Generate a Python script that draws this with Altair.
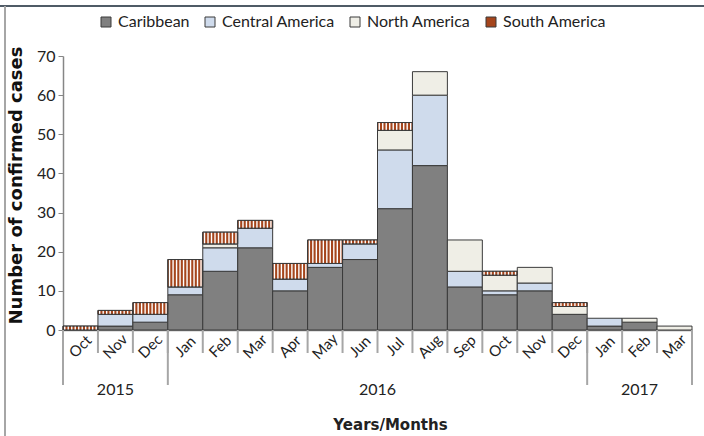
import altair as alt
import pandas as pd

# ---- data ----
years = ["2015"] * 3 + ["2016"] * 12 + ["2017"] * 3
months = ["Oct", "Nov", "Dec",
          "Jan", "Feb", "Mar", "Apr", "May", "Jun", "Jul", "Aug", "Sep", "Oct", "Nov", "Dec",
          "Jan", "Feb", "Mar"]
regions = ["Caribbean", "Central America", "North America", "South America"]
caribbean = [0, 1, 2, 9, 15, 21, 10, 16, 18, 31, 42, 11, 9, 10, 4, 1, 2, 0]
central   = [0, 3, 2, 2, 6, 5, 3, 1, 4, 15, 18, 4, 1, 2, 0, 2, 0, 0]
north     = [0, 0, 0, 0, 1, 0, 0, 0, 0, 5, 6, 8, 4, 4, 2, 0, 1, 1]
south     = [1, 1, 3, 7, 3, 2, 4, 6, 1, 2, 0, 0, 1, 0, 1, 0, 0, 0]
y_ticks = [0, 10, 20, 30, 40, 50, 60, 70]
region_colors = ["#808080", "#CFDBEC", "#EFEEE6", "#A5451C"]

keys = [f"{y}|{m}" for y, m in zip(years, months)]
series = [caribbean, central, north, south]

rows = []
for i, k in enumerate(keys):
    base = 0
    for r, (name, vals) in enumerate(zip(regions, series)):
        v = vals[i]
        rows.append({"key": k, "region": name, "ord": r, "value": v,
                     "start": base, "end": base + v})
        base += v
df = pd.DataFrame(rows)
seg = df[df["value"] > 0]

# stripes for South America segments
stripe_rows = []
for _, r in seg[seg["region"] == "South America"].iterrows():
    for s in range(10):
        stripe_rows.append({"key": r["key"], "s": s, "start": r["start"], "end": r["end"]})
stripes = pd.DataFrame(stripe_rows)

mdf = pd.DataFrame({"key": keys})

# year groups
ystart, yend, ycenter_odd, ycenter_even = [], [], [], []
for y in dict.fromkeys(years):
    idx = [i for i, yy in enumerate(years) if yy == y]
    ystart.append({"key": keys[idx[0]], "year": y})
    yend.append({"key": keys[idx[-1]], "year": y})
    c = (idx[0] + idx[-1]) / 2
    if c % 1 == 0:
        ycenter_odd.append({"key": keys[int(c)], "year": y})
    else:
        ycenter_even.append({"key": keys[int(c)], "year": y})
ys_df = pd.DataFrame(ystart)
ye_df = pd.DataFrame(yend[-1:])
yo_df = pd.DataFrame(ycenter_odd)
yev_df = pd.DataFrame(ycenter_even)

W, H = 629, 274
FONT = "Lato"
BOLD = "DejaVu Sans"
GRID_GREY = "#A6A6A6"
AX_GREY = "#868686"

yscale = alt.Scale(domain=[0, 70], nice=False)
xscale = alt.Scale(domain=keys, paddingInner=0, paddingOuter=0)

x_axis = alt.Axis(labelAngle=315, labelAlign="center", labelBaseline="middle",
                  ticks=False, labelPadding=16, labelFontSize=15, labelColor="#222222",
                  labelFont=FONT, labelOverlap=False,
                  domainColor=AX_GREY, domainWidth=1.5,
                  labelExpr="split(datum.value, '|')[1]",
                  title="Years/Months", titleFont=BOLD, titleFontSize=15,
                  titleFontWeight="bold", titleColor="#222222",
                  titleX=327, titleY=94, titleAlign="center", titleBaseline="middle")
y_axis = alt.Axis(values=y_ticks, tickCount=len(y_ticks), grid=False, ticks=True, tickSize=5,
                  tickColor=AX_GREY, domainColor=AX_GREY, domainWidth=1.5,
                  labelOverlap=False, labelBound=False,
                  labelFontSize=16, labelColor="#222222", labelFont=FONT, labelPadding=3,
                  title="Number of confirmed cases", titleFont=BOLD, titleFontSize=18,
                  titleFontWeight="bold", titleColor="#111111",
                  titleX=-47, titleY=129, titleAngle=270,
                  titleAlign="center", titleBaseline="middle")

bars = alt.Chart(seg).mark_bar(stroke="#3a3a3a", strokeWidth=1).encode(
    x=alt.X("key:N", scale=xscale, axis=x_axis, title="Years/Months"),
    y=alt.Y("start:Q", scale=yscale, axis=y_axis, title="Number of confirmed cases"),
    y2="end:Q",
    color=alt.Color("region:N", scale=alt.Scale(domain=regions, range=region_colors),
                    legend=alt.Legend(orient="none", legendX=35, legendY=-42,
                                      direction="horizontal", title=None,
                                      symbolType="square", symbolSize=100,
                                      symbolStrokeColor="#3a3a3a", symbolStrokeWidth=1,
                                      labelFont=FONT, labelFontSize=16, labelColor="#222222",
                                      labelOffset=4, columnPadding=12)),
)

stripe_layer = alt.Chart(stripes).mark_bar(color="white").encode(
    x=alt.X("key:N", scale=xscale, axis=x_axis, title="Years/Months"),
    xOffset=alt.XOffset("s:O", scale=alt.Scale(paddingInner=0.6, paddingOuter=0.3)),
    y=alt.Y("start:Q", scale=yscale, axis=y_axis, title="Number of confirmed cases"),
    y2="end:Q",
)

south_outline = alt.Chart(seg[seg["region"] == "South America"]).mark_bar(
    fillOpacity=0, stroke="#3a3a3a", strokeWidth=1).encode(
    x=alt.X("key:N", scale=xscale, axis=x_axis, title="Years/Months"),
    y=alt.Y("start:Q", scale=yscale, axis=y_axis, title="Number of confirmed cases"),
    y2="end:Q",
)

month_rules = alt.Chart(mdf).mark_rule(color=GRID_GREY, strokeWidth=2).encode(
    x=alt.X("key:N", scale=xscale, bandPosition=0, axis=x_axis, title="Years/Months"),
    y=alt.value(H), y2=alt.value(H + 23),
)

year_start_rules = alt.Chart(ys_df).mark_rule(color=GRID_GREY, strokeWidth=2).encode(
    x=alt.X("key:N", scale=xscale, bandPosition=0, axis=x_axis, title="Years/Months"),
    y=alt.value(H), y2=alt.value(H + 55),
)
year_end_rule = alt.Chart(ye_df).mark_rule(color=GRID_GREY, strokeWidth=2).encode(
    x=alt.X("key:N", scale=xscale, bandPosition=1, axis=x_axis, title="Years/Months"),
    y=alt.value(H), y2=alt.value(H + 55),
)

ytext_odd = alt.Chart(yo_df).mark_text(font=FONT, fontSize=16, color="#222222",
                                       baseline="middle").encode(
    x=alt.X("key:N", scale=xscale, bandPosition=0.5, axis=x_axis, title="Years/Months"),
    y=alt.value(H + 60), text="year:N",
)
ytext_even = alt.Chart(yev_df).mark_text(font=FONT, fontSize=16, color="#222222",
                                         baseline="middle").encode(
    x=alt.X("key:N", scale=xscale, bandPosition=1, axis=x_axis, title="Years/Months"),
    y=alt.value(H + 60), text="year:N",
)

# outer frame lines of the figure
frame_top = alt.Chart(mdf.head(1)).mark_rule(color="#4F5B66", strokeWidth=2).encode(
    x=alt.value(-63), x2=alt.value(641), y=alt.value(-50))
frame_left = alt.Chart(mdf.head(1)).mark_rule(color="#A6A6A6", strokeWidth=2).encode(
    x=alt.value(-58), y=alt.value(-50), y2=alt.value(380))

chart = alt.layer(
    bars, stripe_layer, south_outline, month_rules, year_start_rules, year_end_rule,
    ytext_odd, ytext_even, frame_top, frame_left
).properties(
    width=W, height=H,
    autosize=alt.AutoSizeParams(type="none"),
    padding={"left": 63, "top": 56, "right": 12, "bottom": 106},
).configure(font=FONT).configure_view(stroke=None)

chart.save("out.html", embed_options={"renderer": "svg", "actions": False})
